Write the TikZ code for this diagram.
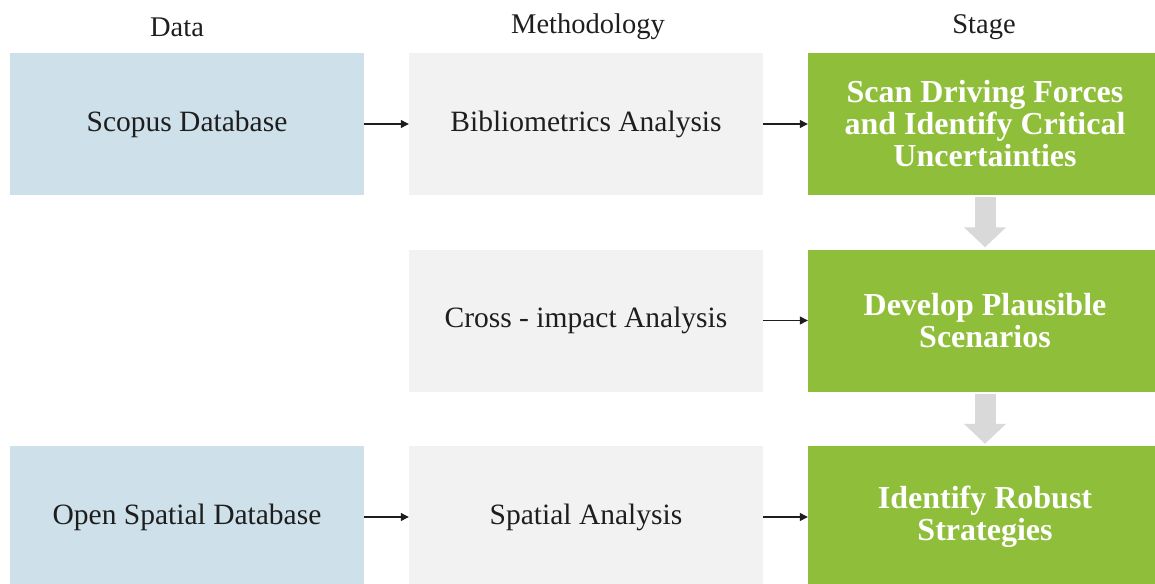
\documentclass[tikz,border=0pt]{standalone}
\usepackage{fontspec}
\setmainfont{Liberation Serif}
\usetikzlibrary{arrows.meta}
\definecolor{bluebox}{RGB}{206,224,233}
\definecolor{greybox}{RGB}{242,242,242}
\definecolor{greenbox}{RGB}{143,190,58}
\definecolor{downarrow}{RGB}{217,217,217}
\definecolor{inkc}{RGB}{30,30,30}
\begin{document}
\begin{tikzpicture}[x=1pt,y=-1pt,
  box/.style={minimum width=354pt,minimum height=142pt,inner sep=0pt,align=center,text=inkc,font=\fontsize{29.5}{32}\selectfont},
  datab/.style={box,fill=bluebox},
  methb/.style={box,fill=greybox},
  stageb/.style={box,fill=greenbox,text=white,font=\bfseries\fontsize{32}{32}\selectfont},
  header/.style={text=inkc,font=\fontsize{28.5}{30}\selectfont,inner sep=0pt},
  conn/.style={draw=inkc,line width=1.2pt,-{Triangle[width=8pt,length=8pt]}},
  bigarrow/.style={draw=downarrow,line width=21pt,-{Triangle[width=41pt,length=20pt]},shorten <=2pt,shorten >=2pt}
]
\useasboundingbox (0,0) rectangle (1155,583);
\clip (0,0) rectangle (1155,583);
\node[header] (hd) at (177,27) {Data};
\node[header] (hm) at (588,27) {Methodology};
\node[header] (hs) at (984,27) {Stage};

\node[datab] (b1) at (187,124) {Scopus Database};
\node[methb] (m1) at (586,124) {Bibliometrics Analysis};
\node[stageb] (g1) at (985,124) {Scan Driving Forces\\and Identify Critical\\Uncertainties};

\node[methb] (m2) at (586,320.5) {Cross - impact Analysis};
\node[stageb] (g2) at (985,320.5) {Develop Plausible\\Scenarios};

\node[datab] (b3) at (187,517) {Open Spatial Database};
\node[methb] (m3) at (586,517) {Spatial Analysis};
\node[stageb] (g3) at (985,517) {Identify Robust\\Strategies};

\draw[conn] (b1) -- (m1);
\draw[conn] (m1) -- (g1);
\draw[conn] (m2) -- (g2);
\draw[conn] (b3) -- (m3);
\draw[conn] (m3) -- (g3);

\draw[bigarrow] (g1.south) -- (g2.north);
\draw[bigarrow] (g2.south) -- (g3.north);
\end{tikzpicture}
\end{document}
